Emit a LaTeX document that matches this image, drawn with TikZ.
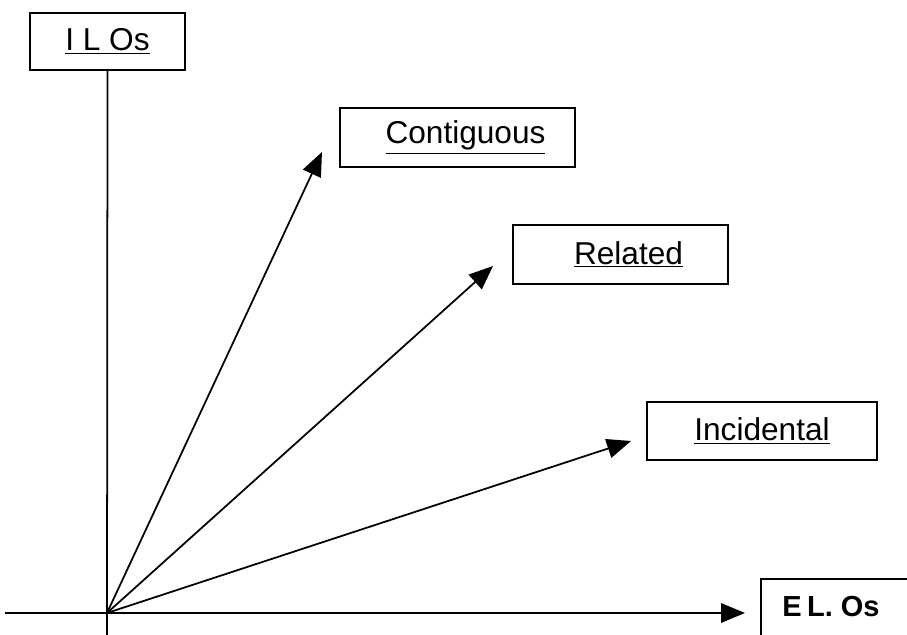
\documentclass[tikz,border=0pt]{standalone}
\usepackage{fontspec}
\setmainfont{Liberation Sans}
\usetikzlibrary{arrows.meta}
\tikzset{
  lobox/.style={draw, line width=1pt, font=\fontsize{18}{20}\selectfont},
  axis/.style={line width=1pt},
  vec/.style={line width=1pt, -{Triangle[length=4.8mm,width=3.9mm]}}
}
\begin{document}
\begin{tikzpicture}[x=0.02cm,y=0.02cm]
\clip (0,0) rectangle (907,635);
\useasboundingbox (0,0) rectangle (907,635);

% boxes
\node[lobox, minimum width=3.1cm, minimum height=1.14cm] (ilo) at (107.5,593.5) {\underline{I L Os}};
\node[lobox, minimum width=4.7cm, minimum height=1.18cm] (cont) at (457.5,497.5) {\hspace*{0.32cm}\underline{Contiguous}};
\node[lobox, minimum width=4.3cm, minimum height=1.18cm] (rel) at (620.5,380.5) {\hspace*{0.32cm}\underline{Related}};
\node[lobox, minimum width=4.6cm, minimum height=1.16cm] (inc) at (762,204) {\underline{Incidental}};
\node[draw, line width=1pt, anchor=north west, minimum width=4cm, minimum height=2cm] (elobox) at (760,57) {};
\node[font=\fontsize{16.5}{18}\selectfont\bfseries, inner sep=0pt] (elo) at (831,28) {E\kern-1.5pt\ L.\ Os};

% axes
\coordinate (O) at (107,22);
\coordinate (xl) at (5,22);
\coordinate (xr) at (745,22);
\coordinate (yb) at (107,-5);
\draw[axis] (ilo.south) -- (yb);
\draw[vec] (xl) -- (xr);

% vectors
\coordinate (tc) at (322,483);
\coordinate (tr) at (493,369);
\coordinate (ti) at (631,194);
\draw[vec] (O) -- (tc);
\draw[vec] (O) -- (tr);
\draw[vec] (O) -- (ti);
\end{tikzpicture}
\end{document}
